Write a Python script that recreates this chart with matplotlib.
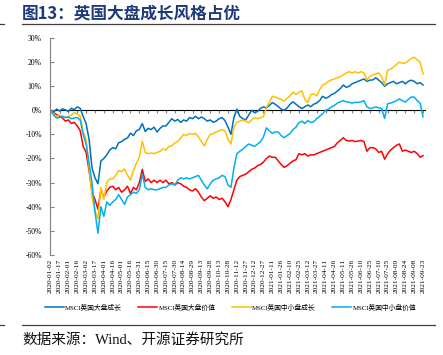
import numpy as np
import pandas as pd
import matplotlib
matplotlib.use('Agg')
import matplotlib.pyplot as plt
import matplotlib.dates as mdates
from matplotlib.lines import Line2D

plt.rcParams['font.family'] = ['Liberation Serif', 'Noto Sans CJK SC']

# sampled every 5 days from 2020-01-02 to 2021-09-23 (cumulative return, %)
start_date = '2020-01-02'
step_days = 5

large_growth = [0, -0.8, 0.5, -0.3, 0.6, 0.2, -0.5, 0.8, 0.3, 1.4, 0.8, -2.5, -5.5, -12, -24, -28,
                -30.5, -21, -20, -18.5, -16.5, -15.5, -16, -13.5, -13, -12, -11.5, -9.5, -10.5, -8.5,
                -8, -5.5, -8.8, -7.5, -8, -7, -9, -7.5, -6.5, -6.5, -5, -3.5, -4.5, -3.8, -5, -4,
                -4.5, -3, -3.5, -2.5, -3.5, -2.8, -3.5, -4.5, -4, -5, -4.5, -3.5, -3, -4.3, -7, -10,
                -3, 0.5, -2.5, -3.5, -4, -2, 0, -1, -0.5, 0.8, 1.4, 1, 2, 3.2, 2.5, 1.5, 0.5, 0, 1,
                2.5, 3.5, 2.5, 1.5, 0.7, 1.5, 2.2, 1.5, 2.5, 3, 4, 5.8, 5, 5.5, 6.5, 7, 8, 9, 10.5,
                9.5, 10, 11, 11.5, 12, 12.5, 13, 12, 12.5, 12.6, 13.5, 12.5, 11.5, 10, 11, 11.5, 12,
                11, 11.5, 12, 11, 12, 12.5, 12, 11, 11.5, 10.5]
large_value = [0, -1, -1.8, -2.5, -3.2, -4.5, -4, -5.5, -5, -6.5, -8.5, -15, -17.5, -25, -34, -37,
               -41, -33, -36, -33.5, -32, -31.5, -33, -32, -34, -33, -31.5, -34.5, -32, -33, -30,
               -24.5, -29.5, -28.5, -30, -29, -30, -29, -30, -29, -30.5, -30, -31, -30, -30.5, -31.5,
               -32, -33, -33.5, -32.5, -34, -36, -37.5, -36.5, -35.5, -36.5, -36, -37, -36.5, -38,
               -40, -37, -33, -29, -27.5, -27, -26.5, -25.5, -24.5, -24, -23, -22.5, -21.5, -20, -19,
               -19.5, -19.5, -21, -22.5, -23.7, -23, -22, -21, -20.5, -18, -18.5, -18, -19, -18.5,
               -18.5, -18, -17.5, -17, -16.5, -16, -15.5, -15, -13.5, -12.5, -11.4, -12.5, -12.8,
               -12.5, -13, -12.8, -12.5, -13, -17, -15.5, -15.5, -16, -17.5, -17, -20.3, -18, -16.5,
               -15.5, -14.5, -14, -17, -16.5, -17, -17.5, -17, -18, -19.5, -18.8]
small_growth = [0, -1.5, -2.5, -2, -2.5, -3, -2.5, -2, -1, -1.5, -2.5, -9, -12, -23.7, -36, -42, -45,
                -32, -37, -30, -28.5, -28.5, -27, -25, -25.5, -24.4, -27, -29, -25, -22, -19.6, -12.8,
                -17.5, -18, -17.7, -18, -17.5, -17, -16, -16.5, -15, -14.8, -13.5, -13, -11.5, -10,
                -10.5, -9.6, -10, -9.6, -11, -13, -14.8, -12, -10, -9.6, -9, -8.5, -8, -8.6, -12, -14,
                -7, -5, -4.5, -4, -4.5, -5.2, -4, -3, -3.5, -3, -2.7, 1, 3.5, 5.8, 5.5, 5, 4.5, 3.8,
                5, 6, 7.5, 6.6, 7.5, 8, 4.5, 3.2, 6.5, 6.8, 6, 8.5, 10.5, 11, 12, 12.6, 13, 13.5, 14,
                14.7, 15.5, 16, 15.5, 16, 15.5, 16, 15.5, 12.6, 14, 14.7, 15, 15.5, 14, 10.5, 16.7,
                17, 18, 19, 20, 19.5, 19.6, 20.5, 21.5, 22, 21, 20, 15]
small_value = [0, -2, -3.2, -3, -2.5, -3, -2.8, -3.5, -3.2, -3, -4, -10, -14, -22, -30, -42, -51, -40,
               -44, -38, -39.5, -38, -37, -35, -37, -39, -36, -35, -34, -34.5, -33, -26.5, -32, -33,
               -32.5, -33, -33, -32.5, -32, -32, -31, -30.5, -31, -29, -28, -28.5, -28, -28.5, -28,
               -27.5, -27, -29, -31, -32.6, -30.5, -29, -28.5, -28, -27, -27.5, -31, -32, -24, -18,
               -17, -16.2, -15, -14, -14.5, -15, -14, -13, -11, -7.3, -8.5, -9.6, -9, -9, -10.5,
               -11.4, -10.5, -9.6, -8, -7, -5.2, -4.5, -5.5, -4.3, -5, -4.8, -3.5, -2.5, -1.5, 0,
               0.5, 1.4, 2, 3, 3.5, 4, 3.5, 3.3, 3, 3.3, 3.3, 3.5, 4, 1.5, 0.7, 1, 1.4, 1, 0.7,
               -3.4, 2.7, 3, 3.4, 4, 4.7, 4, 3.4, 4.5, 5.5, 5.5, 4, 3, -2.7]

series_names = ['MSCI英国大盘成长', 'MSCI英国大盘价值', 'MSCI英国中小盘成长', 'MSCI英国中小盘价值']
series_colors = ['#0070C0', '#FF0000', '#FFC000', '#00B0F0']
yticks = [30, 20, 10, 0, -10, -20, -30, -40, -50, -60]

dates = pd.date_range(start_date, periods=len(large_growth), freq=f'{step_days}D')
tick_dates = pd.date_range('2020-01-02', '2021-09-23', freq='15D')

fig = plt.figure(figsize=(4.43, 3.55), dpi=100)
ax = fig.add_axes([0.113, 0.282, 0.846, 0.611])

for vals, name, color in zip([large_growth, large_value, small_growth, small_value],
                             series_names, series_colors):
    ax.plot(dates, vals, color=color, lw=1.1, label=name)

ax.set_ylim(-60, 30)
ax.set_xlim(dates[0] - pd.Timedelta(days=1), dates[-1] + pd.Timedelta(days=3))
ax.set_yticks(yticks)
ax.set_yticklabels([f'{v}%' for v in yticks], fontsize=5.5)
ax.tick_params(axis='y', direction='in', length=3, color='#808080', pad=6)
ax.set_xticks(tick_dates)
ax.xaxis.set_major_formatter(mdates.DateFormatter('%Y-%m-%d'))
ax.tick_params(axis='x', length=0, labelsize=5.3, rotation=90, pad=3)
for s in ['top', 'right', 'bottom']:
    ax.spines[s].set_visible(False)
ax.spines['left'].set_color('#808080')
ax.spines['left'].set_linewidth(0.8)

# zero line with its own tick marks
zero = ax.secondary_xaxis(60 / 90)
zero.set_xticks(tick_dates)
zero.tick_params(axis='x', direction='in', length=2, color='#808080', labelbottom=False)
zero.spines['bottom'].set_color('#808080')
zero.spines['bottom'].set_linewidth(0.8)
zero.set_xticklabels([])

handles = [Line2D([0], [0], color=c, lw=1.1) for c in series_colors]
fig.legend(handles, series_names, loc='center', bbox_to_anchor=(0.52, 0.135), ncol=4,
           frameon=False, fontsize=4.9, handlelength=2.8, columnspacing=2.4, handletextpad=0.2)

fig.text(0.05, 0.962, '图13：英国大盘成长风格占优', fontsize=12, fontweight='bold',
         color='#1F3A7A', family=['Noto Sans CJK SC'], va='center')
fig.add_artist(Line2D([0.05, 0.982], [0.933, 0.933], color='#404040', lw=0.9))
fig.add_artist(Line2D([0.0, 0.01], [0.933, 0.933], color='#404040', lw=0.9))
fig.add_artist(Line2D([0.05, 0.982], [0.085, 0.085], color='#404040', lw=0.9))
fig.add_artist(Line2D([0.0, 0.01], [0.085, 0.085], color='#404040', lw=0.9))
fig.text(0.05, 0.042, '数据来源：Wind、开源证券研究所', fontsize=10.5, color='#111111', va='center')

fig.savefig('out.png', dpi=100)
